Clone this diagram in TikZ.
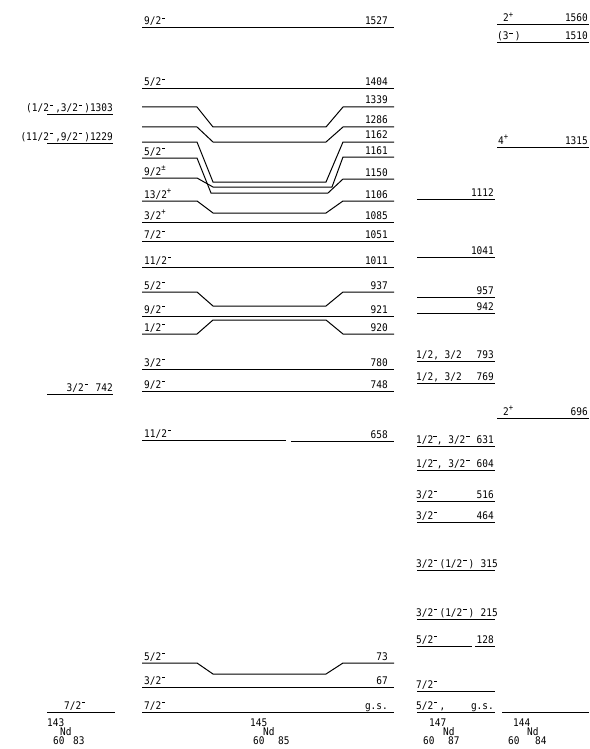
\documentclass[tikz,border=0pt]{standalone}
\usepackage{fontspec}
\setmainfont{DejaVu Sans Mono}[FakeStretch=0.9]
\newcommand\Mi{\makebox[0.6em][l]{\hspace{0.08em}\raisebox{6.2pt}{\rule{0.32em}{0.8pt}}}}
\newcommand\Mn{\makebox[0.35em][l]{\hspace{0.02em}\raisebox{6.2pt}{\rule{0.32em}{0.8pt}}}}
\newcommand\Pl{\makebox[0.6em][l]{\raisebox{0.8ex}{\footnotesize +}}}
\newcommand\SPM{\makebox[0.6em][l]{\raisebox{0.75ex}{\footnotesize ±}}}
\newcommand\full[1]{\draw[lev] (142,#1) -- (394,#1);}
\newcommand\bent[3]{\draw[lev] (142,#1) -- (197,#1) -- (213,#2) -- (326,#2) -- (343,#3) -- (394,#3);}
\newcommand\spin[3]{\node[sl] (#1) at (144,#2-3) {#3};}
\newcommand\ener[3]{\node[el] (#1) at (388,#2-3) {#3};}
\newcommand\lvA[1]{\draw[lev] (417,#1) -- (495,#1);}
\newcommand\spA[3]{\node[sl] (#1) at (416,#2-3) {#3};}
\newcommand\enA[3]{\node[el] (#1) at (494,#2-3) {#3};}
\begin{document}
\begin{tikzpicture}[x=1pt,y=-1pt,
  lev/.style={line width=1pt,black},
  sl/.style={anchor=base west,inner sep=0pt,font=\fontsize{10.5}{12}\selectfont},
  el/.style={anchor=base east,inner sep=0pt,font=\fontsize{10.5}{12}\selectfont},
  nl/.style={anchor=base west,inner sep=0pt,font=\fontsize{10.5}{12}\selectfont}]
\useasboundingbox[fill=white] (0,0) rectangle (589,749);

% ---------------- 143Nd ----------------
\draw[lev] (47,115) -- (113,115);
\node[el] (a1303) at (113,112) {(1/2\Mi,3/2\Mi)1303};
\draw[lev] (47,143) -- (113,143);
\node[el] (a1229) at (113,140) {(11/2\Mi,9/2\Mi)1229};
\draw[lev] (47,394) -- (113,394);
\node[el] (a742) at (113,391) {3/2\Mi{} 742};
\draw[lev] (47,712) -- (115,712);
\node[sl] (a0) at (64,709) {7/2\Mi};
\node[nl] (n143) at (47,726) {143};
\node[nl] (n143nd) at (60,735) {Nd};
\node[nl] (n143z) at (53,744) {60};
\node[nl] (n143n) at (73,744) {83};

% ---------------- 145Nd ----------------
\full{28}  \spin{b1}{28}{9/2\Mi}  \ener{c1}{28}{1527}
\full{89}  \spin{b2}{89}{5/2\Mi}  \ener{c2}{89}{1404}
\bent{107}{127}{107}  \ener{c3}{107}{1339}
\bent{127}{142}{127}  \ener{c4}{127}{1286}
\bent{142}{182}{142}  \ener{c5}{142}{1162}
\draw[lev] (142,158) -- (197,158) -- (211,193) -- (328,193) -- (343,179) -- (394,179);
\spin{b6}{158}{5/2\Mi}  \ener{c6}{157}{1161}
\draw[lev] (142,178) -- (197,178) -- (213,187) -- (332,187) -- (343,157) -- (394,157);
\spin{b7}{178}{9/2\SPM} \ener{c7}{179}{1150}
\bent{201}{213}{201}  \spin{b8}{201}{13/2\Pl} \ener{c8}{201}{1106}
\full{222} \spin{b9}{222}{3/2\Pl}  \ener{c9}{222}{1085}
\full{241} \spin{b10}{241}{7/2\Mi} \ener{c10}{241}{1051}
\full{267} \spin{b11}{267}{11/2\Mi} \ener{c11}{267}{1011}
\bent{292}{306}{292} \spin{b12}{292}{5/2\Mi} \ener{c12}{292}{937}
\full{316} \spin{b13}{316}{9/2\Mi} \ener{c13}{316}{921}
\bent{334}{320}{334} \spin{b14}{334}{1/2\Mi} \ener{c14}{334}{920}
\full{369} \spin{b15}{369}{3/2\Mi} \ener{c15}{369}{780}
\full{391} \spin{b16}{391}{9/2\Mi} \ener{c16}{391}{748}
\draw[lev] (142,440) -- (286,440);
\draw[lev] (291,441) -- (394,441);
\spin{b17}{440}{11/2\Mi} \ener{c17}{441}{658}
\bent{663}{674}{663} \spin{b18}{663}{5/2\Mi} \ener{c18}{663}{73}
\full{687} \spin{b19}{687}{3/2\Mi} \ener{c19}{687}{67}
\full{712} \spin{b20}{712}{7/2\Mi} \ener{c20}{712}{g.s.}
\node[nl] (n145) at (250,726) {145};
\node[nl] (n145nd) at (263,735) {Nd};
\node[nl] (n145z) at (253,744) {60};
\node[nl] (n145n) at (278,744) {85};

% ---------------- 147Nd ----------------
\lvA{199} \enA{d1}{199}{1112}
\lvA{257} \enA{d2}{257}{1041}
\lvA{297} \enA{d3}{297}{957}
\lvA{313} \enA{d4}{313}{942}
\lvA{361} \spA{f5}{361}{1/2, 3/2} \enA{d5}{361}{793}
\lvA{383} \spA{f6}{383}{1/2, 3/2} \enA{d6}{383}{769}
\lvA{446} \spA{f7}{446}{1/2\Mn, 3/2\Mi} \enA{d7}{446}{631}
\lvA{470} \spA{f8}{470}{1/2\Mn, 3/2\Mi} \enA{d8}{470}{604}
\lvA{501} \spA{f9}{501}{3/2\Mi} \enA{d9}{501}{516}
\lvA{522} \spA{f10}{522}{3/2\Mi} \enA{d10}{522}{464}
\lvA{570} \spA{f11}{570}{3/2\Mi(1/2\Mi)} \node[el] (d11) at (498,567) {315};
\lvA{619} \spA{f12}{619}{3/2\Mi(1/2\Mi)} \node[el] (d12) at (498,616) {215};
\draw[lev] (417,646) -- (472,646);
\draw[lev] (475,646) -- (495,646);
\spA{f13}{646}{5/2\Mi} \enA{d13}{646}{128}
\lvA{691} \spA{f14}{691}{7/2\Mi}
\lvA{712} \spA{f15}{712}{5/2\Mi,} \enA{d15}{712}{g.s.}
\node[nl] (n147) at (429,726) {147};
\node[nl] (n147nd) at (443,735) {Nd};
\node[nl] (n147z) at (423,744) {60};
\node[nl] (n147n) at (448,744) {87};

% ---------------- 144Nd ----------------
\draw[lev] (497,25) -- (589,25);
\node[sl] (g1) at (503,22) {2\Pl};
\node[el] (h1) at (588,22) {1560};
\draw[lev] (497,43) -- (589,43);
\node[sl] (g2) at (497,40) {(3\Mi)};
\node[el] (h2) at (588,40) {1510};
\draw[lev] (497,147) -- (589,147);
\node[sl] (g3) at (498,144) {4\Pl};
\node[el] (h3) at (588,144) {1315};
\draw[lev] (497,418) -- (589,418);
\node[sl] (g4) at (503,415) {2\Pl};
\node[el] (h4) at (588,415) {696};
\draw[lev] (502,712) -- (589,712);
\node[nl] (n144) at (513,726) {144};
\node[nl] (n144nd) at (527,735) {Nd};
\node[nl] (n144z) at (508,744) {60};
\node[nl] (n144n) at (535,744) {84};
\end{tikzpicture}
\end{document}
